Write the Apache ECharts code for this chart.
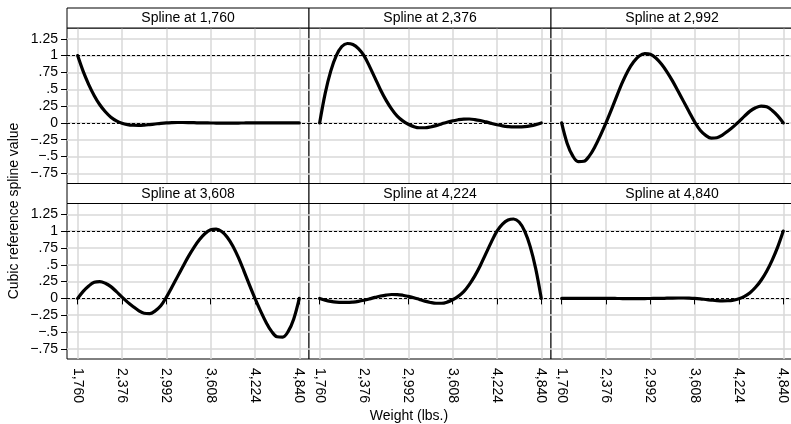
<!DOCTYPE html>
<html><head><meta charset="utf-8">
<script src="https://cdn.jsdelivr.net/npm/echarts@6/dist/echarts.min.js"></script>
<style>html,body{margin:0;padding:0;background:#fff}#c{width:791px;height:424px}</style>
</head><body><div id="c"></div><script>
// ---- data ----
const xTicks = [1760, 2376, 2992, 3608, 4224, 4840];
const xTickLabels = ['1,760', '2,376', '2,992', '3,608', '4,224', '4,840'];
const yTicks = [-0.75, -0.5, -0.25, 0, 0.25, 0.5, 0.75, 1, 1.25];
const yTickLabels = ['\u2212.75', '\u2212.5', '\u2212.25', '0', '.25', '.5', '.75', '1', '1.25'];
const refLines = [0, 1];
const panelTitles = ['Spline at 1,760', 'Spline at 2,376', 'Spline at 2,992',
                     'Spline at 3,608', 'Spline at 4,224', 'Spline at 4,840'];
const xTitle = 'Weight (lbs.)';
const yTitle = 'Cubic reference spline value';

const weight = [1760, 1837, 1914, 1991, 2068, 2145, 2222, 2299, 2376, 2453, 2530, 2607, 2684, 2761,
  2838, 2915, 2992, 3069, 3146, 3223, 3300, 3377, 3454, 3531, 3608, 3685, 3762, 3839, 3916, 3993,
  4070, 4147, 4224, 4301, 4378, 4455, 4532, 4609, 4686, 4763, 4840];

const spline1760 = [1.0, 0.765, 0.57, 0.405, 0.27, 0.165, 0.085, 0.03, -0.005, -0.025, -0.035, -0.037,
  -0.033, -0.025, -0.016, -0.007, 0.0, 0.004, 0.006, 0.006, 0.005, 0.003, 0.001, 0.0, -0.001, -0.002,
  -0.003, -0.003, -0.003, -0.002, -0.001, 0, 0, 0.001, 0.001, 0.001, 0.001, 0.001, 0, 0, 0];
const spline2376 = [0, 0.44, 0.77, 1.0, 1.135, 1.18, 1.165, 1.105, 1.0, 0.84, 0.665, 0.49, 0.335, 0.205,
  0.10, 0.03, -0.02, -0.055, -0.072, -0.072, -0.06, -0.04, -0.015, 0.01, 0.03, 0.047, 0.057, 0.058,
  0.05, 0.035, 0.015, -0.007, -0.027, -0.043, -0.054, -0.06, -0.06, -0.055, -0.043, -0.025, 0];
const spline2992 = [0, -0.305, -0.49, -0.575, -0.57, -0.49, -0.355, -0.185, 0, 0.20, 0.41, 0.61, 0.78,
  0.91, 0.995, 1.03, 1.02, 0.965, 0.875, 0.76, 0.625, 0.475, 0.32, 0.165, 0.015, -0.11, -0.185, -0.225,
  -0.22, -0.18, -0.12, -0.055, 0.02, 0.10, 0.175, 0.225, 0.25, 0.24, 0.185, 0.105, 0];
const spline3608 = [0, 0.105, 0.185, 0.24, 0.25, 0.225, 0.175, 0.10, 0.02, -0.055, -0.12, -0.18, -0.22,
  -0.225, -0.185, -0.11, 0.015, 0.165, 0.32, 0.475, 0.625, 0.76, 0.875, 0.965, 1.02, 1.03, 0.995, 0.91,
  0.78, 0.61, 0.41, 0.20, 0, -0.185, -0.355, -0.49, -0.57, -0.575, -0.49, -0.305, 0];
const spline4224 = [0, -0.025, -0.043, -0.055, -0.06, -0.06, -0.054, -0.043, -0.027, -0.007, 0.015,
  0.035, 0.05, 0.058, 0.057, 0.047, 0.03, 0.01, -0.015, -0.04, -0.06, -0.072, -0.072, -0.055, -0.02,
  0.03, 0.10, 0.205, 0.335, 0.49, 0.665, 0.84, 1.0, 1.105, 1.165, 1.18, 1.135, 1.0, 0.77, 0.44, 0];
const spline4840 = [0, 0, 0, 0.001, 0.001, 0.001, 0.001, 0.001, 0, 0, -0.001, -0.002, -0.003, -0.003,
  -0.003, -0.002, -0.001, 0.0, 0.001, 0.003, 0.005, 0.006, 0.006, 0.004, 0.0, -0.007, -0.016, -0.025,
  -0.033, -0.037, -0.035, -0.025, -0.005, 0.03, 0.085, 0.165, 0.27, 0.405, 0.57, 0.765, 1.0];

const allSplines = [spline1760, spline2376, spline2992, spline3608, spline4224, spline4840];

// ---- layout ----
const FONT = 'Liberation Sans, Arial, Helvetica, sans-serif';
const colLeft = [67, 309, 551];
const rowTop = [28, 203.5];
const PW = 242, PH = 155.5, HEAD = 20;

function labelFrom(ticks, labels, v) {
  for (let i = 0; i < ticks.length; i++) if (Math.abs(ticks[i] - v) < 1e-6) return labels[i];
  return '';
}

const grids = [], xAxes = [], yAxes = [], series = [], graphics = [];
for (let i = 0; i < 6; i++) {
  const row = Math.floor(i / 3), col = i % 3;
  const left = colLeft[col], top = rowTop[row];
  grids.push({ left: left, top: top, width: PW, height: PH, show: true,
    borderColor: '#000', borderWidth: 1, backgroundColor: '#fff', containLabel: false,
    outerBoundsMode: 'none' });
  xAxes.push({ gridIndex: i, type: 'value', min: 1612, max: 4975,
    axisLine: { show: false },
    axisTick: { show: row === 1, length: 6, customValues: xTicks, lineStyle: { color: '#000', width: 1 } },
    axisLabel: { show: row === 1, customValues: xTicks, rotate: -90, margin: 9, color: '#000',
      fontSize: 14, fontFamily: FONT, formatter: v => labelFrom(xTicks, xTickLabels, v) },
    splitLine: { show: true, lineStyle: { color: '#d9d9d9', width: 1.5 } } });
  yAxes.push({ gridIndex: i, type: 'value', min: -0.9, max: 1.41,
    axisLine: { show: false },
    axisTick: { show: col === 0, length: 6, customValues: yTicks, lineStyle: { color: '#000', width: 1 } },
    axisLabel: { show: col === 0, customValues: yTicks, margin: 9, color: '#000',
      fontSize: 14, fontFamily: FONT, formatter: v => labelFrom(yTicks, yTickLabels, v) },
    splitLine: { show: true, lineStyle: { color: '#d9d9d9', width: 1.5 } } });
  const vals = allSplines[i];
  series.push({ type: 'line', xAxisIndex: i, yAxisIndex: i, z: 3,
    data: weight.map((w, k) => [w, vals[k]]),
    showSymbol: false, smooth: 0.35, lineStyle: { color: '#000', width: 3.2, join: 'round', cap: 'round' },
    markLine: { silent: true, symbol: 'none', z: 1, animation: false,
      label: { show: false },
      lineStyle: { color: '#000', width: 1, type: [3, 2] },
      data: refLines.map(v => ({ yAxis: v })) } });
  graphics.push({ type: 'rect', z: 10,
    shape: { x: left, y: top - HEAD, width: PW, height: HEAD },
    style: { fill: '#fff', stroke: '#000', lineWidth: 1 } });
  graphics.push({ type: 'text', z: 11, x: left + PW / 2, y: top - HEAD / 2 + 0.5,
    style: { text: panelTitles[i], textAlign: 'center', textVerticalAlign: 'middle',
      font: '14px ' + FONT, fill: '#000' } });
}
graphics.push({ type: 'text', x: 409, y: 416,
  style: { text: xTitle, textAlign: 'center', textVerticalAlign: 'middle', font: '14px ' + FONT, fill: '#000' } });
graphics.push({ type: 'text', x: 14, y: 211, rotation: Math.PI / 2,
  style: { text: yTitle, textAlign: 'center', textVerticalAlign: 'middle', font: '14px ' + FONT, fill: '#000' } });

const chart = echarts.init(document.getElementById('c'), null, { renderer: 'canvas' });
chart.setOption({
  animation: false,
  backgroundColor: '#fff',
  grid: grids, xAxis: xAxes, yAxis: yAxes, series: series, graphic: graphics
});
</script></body></html>
